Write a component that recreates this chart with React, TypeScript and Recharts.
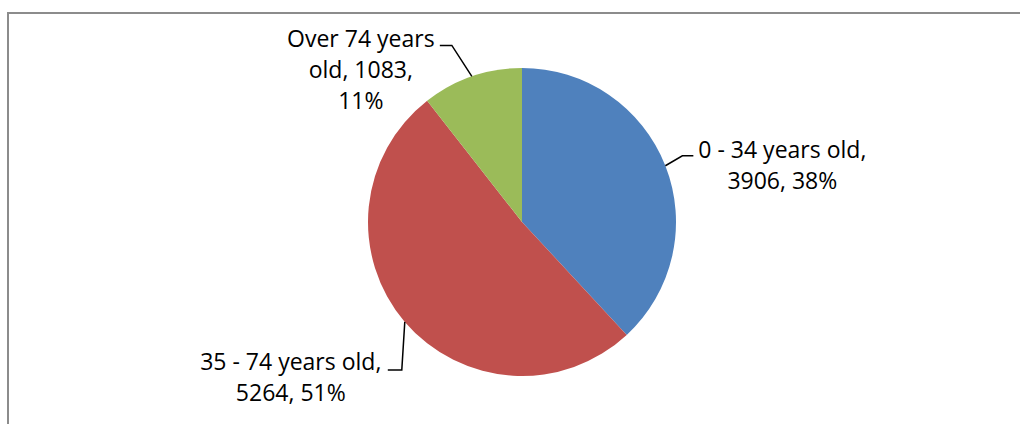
import React from "react";
import { PieChart, Pie, Cell } from "recharts";

const categories = ["0 - 34 years old", "35 - 74 years old", "Over 74 years"];
const values = [3906, 5264, 1083];
const percents = ["38%", "51%", "11%"];
const colors = ["#4F81BD", "#C0504D", "#9BBB59"];

// label text lines per slice (as rendered in the reference)
const labelLines = [
  ["0 - 34 years old,", "3906, 38%"],
  ["35 - 74 years old,", "5264, 51%"],
  ["Over 74 years", "old, 1083,", "11%"],
];

// leader-line/label layout relative to the arc point at the slice middle
const labelLayout = [
  { elbow: [17, -10], end: [28, -10], textDx: 89, textDy: 2 },
  { elbow: [-3, 48], end: [-17, 48], textDx: -97, textDy: 0 },
  { elbow: [-20, -31], end: [-32, -31], textDx: -79, textDy: 2 },
];

const data = categories.map((name, i) => ({ name, value: values[i], pct: percents[i] }));

const RAD = Math.PI / 180;
const FONT = "'Open Sans', sans-serif";
const LINE_H = 31;

const renderLabel = (props: any) => {
  const { cx, cy, midAngle, outerRadius, index } = props;
  const ax = cx + outerRadius * Math.cos(-midAngle * RAD);
  const ay = cy + outerRadius * Math.sin(-midAngle * RAD);
  const L = labelLayout[index];
  const ex = ax + L.elbow[0];
  const ey = ay + L.elbow[1];
  const tx = ax + L.end[0];
  const ty = ay + L.end[1];
  const textX = tx + L.textDx;
  const textY = ty + L.textDy;
  return (
    <g key={`lbl-${index}`}>
      <polyline
        points={`${ax},${ay} ${ex},${ey} ${tx},${ty}`}
        fill="none"
        stroke="#000"
        strokeWidth={1.5}
      />
      <text x={textX} y={textY} textAnchor="middle" fontFamily={FONT} fontSize={23} fill="#000">
        {labelLines[index].map((ln, k) => (
          <tspan key={k} x={textX} y={textY + k * LINE_H}>
            {ln}
          </tspan>
        ))}
      </text>
    </g>
  );
};

export default function App() {
  return (
    <div style={{ position: "absolute", left: 0, top: 0, width: 1020, height: 424, background: "#fff", overflow: "hidden" }}>
      <div
        style={{
          position: "absolute",
          left: 7,
          top: 12,
          width: 1100,
          height: 500,
          borderLeft: "2px solid #8c8c8c",
          borderTop: "2px solid #8c8c8c",
        }}
      />
      <div style={{ position: "absolute", left: 0, top: 0 }}>
        <PieChart width={1020} height={424} margin={{ top: 0, right: 0, bottom: 0, left: 0 }}>
          <Pie
            data={data}
            dataKey="value"
            nameKey="name"
            cx={522}
            cy={222}
            outerRadius={154}
            startAngle={90}
            endAngle={-270}
            stroke="none"
            label={renderLabel}
            labelLine={false}
            isAnimationActive={false}
          >
            {data.map((d, i) => (
              <Cell key={d.name} fill={colors[i]} />
            ))}
          </Pie>
        </PieChart>
      </div>
    </div>
  );
}
